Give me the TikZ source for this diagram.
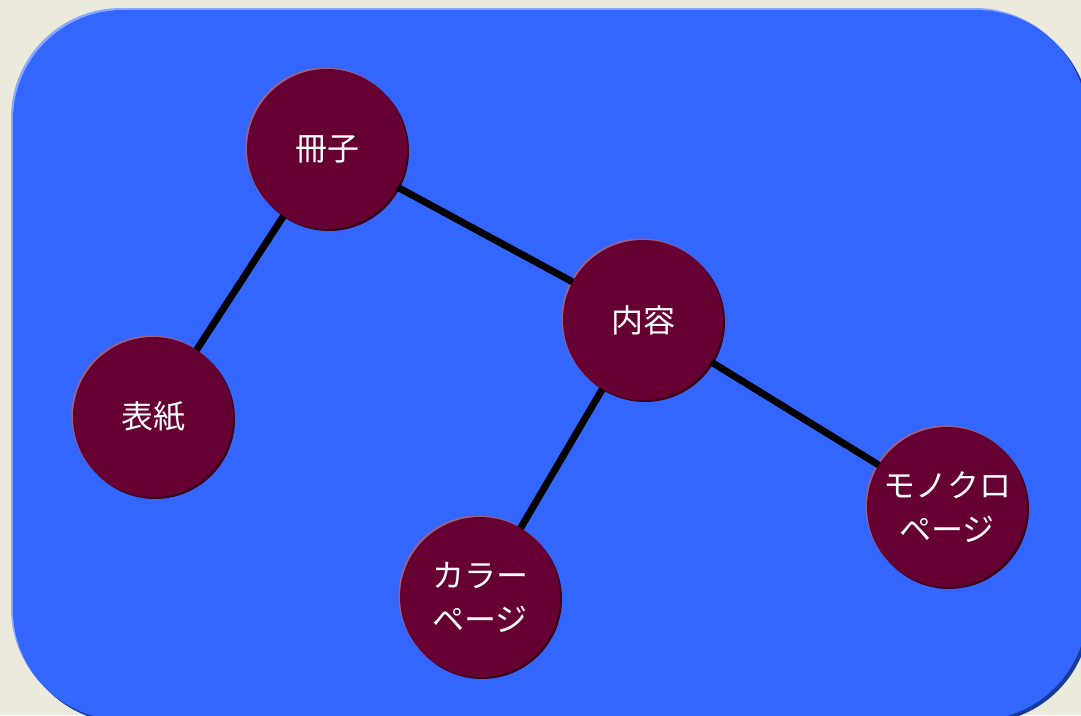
\documentclass[tikz,border=0pt]{standalone}
\usepackage{fontspec}
\setmainfont{Noto Sans CJK JP}
\begin{document}
\begin{tikzpicture}[x=1pt,y=-1pt,
  bub/.style={circle,minimum size=160pt,inner sep=0pt,fill=bubfill,text=white,font=\fontsize{32}{44}\selectfont,align=center},
  edge/.style={line width=7pt,black}]
\definecolor{bgc}{HTML}{ECEADD}
\definecolor{panel}{HTML}{3366FF}
\definecolor{panellight}{HTML}{88A8FF}
\definecolor{paneldark}{HTML}{1A3A99}
\definecolor{bubfill}{HTML}{660033}
\definecolor{bublight}{HTML}{A06080}
\definecolor{bubdark}{HTML}{3A001C}
\useasboundingbox (0,0) rectangle (1081,715);
\clip (0,0) rectangle (1081,715);
\fill[bgc] (0,0) rectangle (1081,715);
% panel with rim
\fill[paneldark,rounded corners=110pt] (16,13) rectangle (1090,723);
\fill[panellight,rounded corners=110pt] (11,8) rectangle (1085,718);
\fill[panel,rounded corners=110pt] (13,10) rectangle (1087,720);
% node positions
\coordinate (pA) at (327,149);
\coordinate (pB) at (643,320);
\coordinate (pC) at (153,417);
\coordinate (pD) at (480,597);
\coordinate (pE) at (947,507);
% rims
\foreach \p in {pA,pB,pC,pD,pE}{
  \fill[bubdark] ([shift={(2,2)}]\p) circle (80);
  \fill[bublight] ([shift={(-1.5,-1.5)}]\p) circle (80);
}
% connectors
\draw[edge] (pA) -- (pC);
\draw[edge] (pA) -- (pB);
\draw[edge] (pB) -- (pD);
\draw[edge] (pB) -- (pE);
% nodes
\node[bub] (a) at (pA) {冊子};
\node[bub] (b) at (pB) {内容};
\node[bub] (c) at (pC) {表紙};
\node[bub] (d) at (pD) {カラー\\ページ};
\node[bub] (e) at (pE) {モノクロ\\ページ};
\end{tikzpicture}
\end{document}
